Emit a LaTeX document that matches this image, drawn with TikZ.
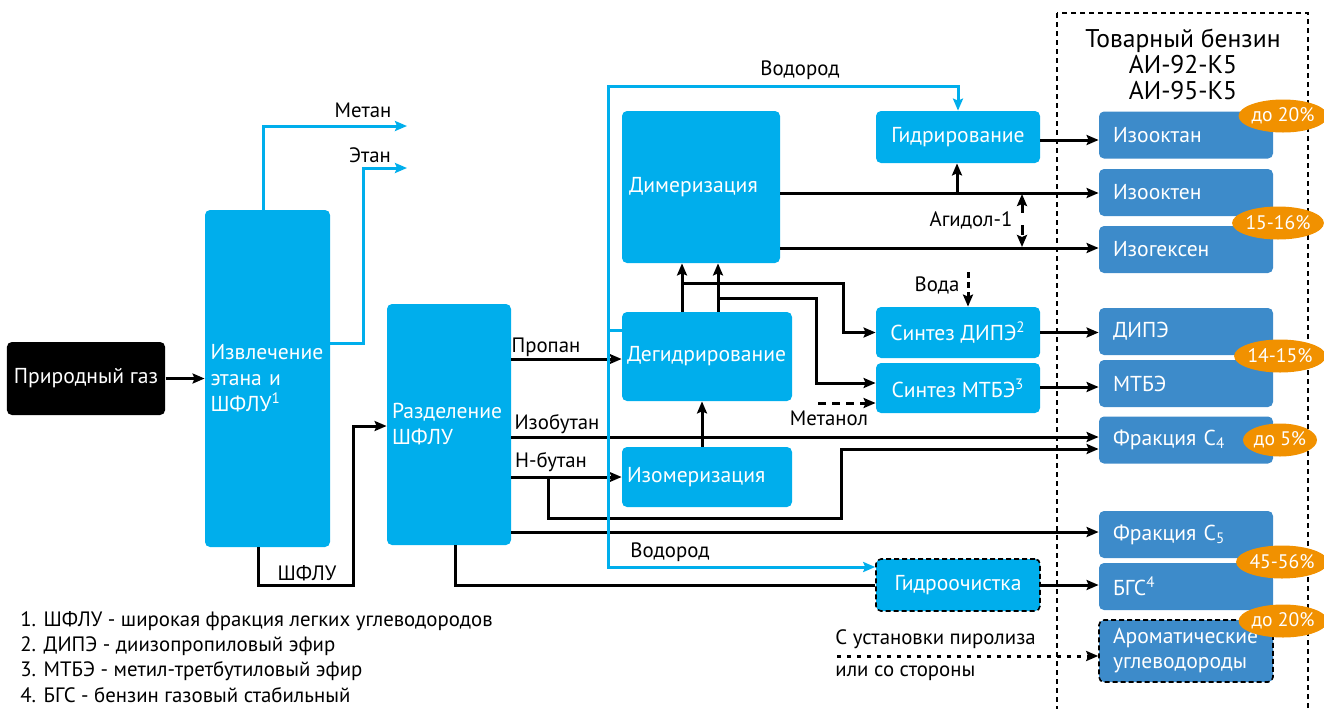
\documentclass[tikz,border=0pt]{standalone}
\usepackage{fontspec}
\setmainfont{PT Sans}
\usetikzlibrary{arrows.meta,shapes.geometric}

\definecolor{procblue}{RGB}{0,174,236}
\definecolor{prodblue}{RGB}{61,139,202}
\definecolor{pctorange}{RGB}{241,145,0}

\tikzset{
  box/.style={fill=procblue, text=white, rounded corners=2.5pt, inner ysep=0pt, inner xsep=3.5pt, align=left,
    font=\fontsize{10.8}{13}\selectfont},
  cbox/.style={box, align=center, minimum width=82pt},
  rbox/.style={fill=prodblue, text=white, rounded corners=2.5pt, inner ysep=0pt, inner xsep=7pt,
    align=left, text width=73pt, minimum height=23.5pt, font=\fontsize{10.8}{12.5}\selectfont},
  pct/.style={ellipse, fill=pctorange, text=white, inner sep=0pt, minimum height=16.5pt,
    font=\fontsize{9.8}{11}\selectfont},
  txt/.style={inner sep=0pt},
  flow/.style={line width=1.5pt, ->},
  pipe/.style={line width=1.5pt},
  hflow/.style={line width=1.5pt, draw=procblue, ->},
  dflow/.style={line width=1.5pt, ->, dash pattern=on 4pt off 3pt},
  dashbox/.style={draw=black, line width=0.8pt, dash pattern=on 2.5pt off 1.5pt}
}

\begin{document}
\begin{tikzpicture}[x=0.5pt, y=-0.5pt, >={Stealth[length=6pt,width=5pt,inset=1pt]},
  font=\fontsize{10.4}{12.5}\selectfont]
  \useasboundingbox (0,0) rectangle (1324,708);

  % Product frame
  \draw[line width=1pt, dash pattern=on 2.5pt off 2pt] (1057,13) rectangle (1308,730);
  \node[txt, align=center, font=\fontsize{12.8}{13}\selectfont] (title) at (1183,64)
    {Товарный бензин\\АИ-92-К5\\АИ-95-К5};

  % Process units
  \node[box, fill=black, align=center, minimum width=76pt, minimum height=36.5pt] (gas) at (86,378.5) {Природный газ};
  \node[box, inner xsep=2.75pt, text width=57pt, minimum height=168.5pt] (extr) at (267.5,378.5) {Извлечение\\этана и\\ШФЛУ\textsuperscript{1}};
  \node[box, inner xsep=2.5pt, text width=57pt, minimum height=120.5pt] (sep) at (449,424.5) {Разделение\\ШФЛУ};
  \node[box, text width=72pt, minimum height=76pt] (dim) at (701,187) {Димеризация};
  \node[box, inner xsep=2.5pt, text width=80pt, minimum height=44.5pt] (deh) at (707,356.5) {Дегидрирование};
  \node[box, inner xsep=2.5pt, text width=80pt, minimum height=30pt] (iso) at (707,477) {Изомеризация};
  \node[cbox, minimum height=26pt] (hyd) at (958,137) {Гидрирование};
  \node[cbox, minimum height=25.5pt] (dipe) at (958,332.5) {Синтез ДИПЭ\textsuperscript{2}};
  \node[cbox, minimum height=25pt] (mtbe) at (958,388) {Синтез МТБЭ\textsuperscript{3}};
  \node[cbox, dashbox, minimum height=26pt] (hydro) at (958,585) {Гидроочистка};

  % Gasoline components
  \node[rbox] (r1) at (1186,135) {Изооктан};
  \node[rbox] (r2) at (1186,192.5) {Изооктен};
  \node[rbox] (r3) at (1186,249.5) {Изогексен};
  \node[rbox] (r4) at (1186,331.5) {ДИПЭ};
  \node[rbox] (r5) at (1186,383.5) {МТБЭ};
  \node[rbox] (r6) at (1186,440) {Фракция C\textsubscript{4}};
  \node[rbox] (r7) at (1186,534.5) {Фракция C\textsubscript{5}};
  \node[rbox] (r8) at (1186,586.5) {БГС\textsuperscript{4}};
  \node[rbox, dashbox, minimum height=31pt] (r9) at (1186,651) {Ароматические\\углеводороды};

  % Shares
  \node[pct, minimum width=40pt] (p1) at (1283,116) {до 20\%};
  \node[pct, minimum width=35pt] (p2) at (1278,223) {15-16\%};
  \node[pct, minimum width=37pt] (p3) at (1280,356) {14-15\%};
  \node[pct, minimum width=37pt] (p4) at (1280,440) {до 5\%};
  \node[pct, minimum width=38pt] (p5) at (1282,562) {45-56\%};
  \node[pct, minimum width=40pt] (p6) at (1283,621) {до 20\%};

  % Free ends and branch points
  \coordinate (metanend) at (407,126);
  \coordinate (etanend) at (407,168);
  \coordinate (hsplit) at (608,330);
  \coordinate (nbsplit) at (548,477);
  \coordinate (dipesplit) at (682,283);
  \coordinate (mtbesplit) at (718,298);
  \coordinate (metanolstart) at (818,403);
  \coordinate (vodastart) at (968,272);
  \coordinate (hydsplit) at (957,193);
  \coordinate (pyrostart) at (837,656);

  % Gas side
  \draw[flow] (gas) -- (extr);
  \draw[hflow] ([xshift=-2.25pt]extr.north) |- (metanend);
  \draw[hflow] (extr.east |- 0,343) -- (363,343) |- (etanend);
  \draw[flow] (extr.south -| 258,0) |- (353,585) |- (sep.west |- 0,426);

  % Fractions
  \draw[flow] (sep.east |- 0,359) -- (deh.west |- 0,359);
  \draw[flow] (sep.east |- 0,437) -- (r6.west |- 0,437);
  \draw[flow] (sep.east |- 0,477) -- (iso.west |- 0,477);
  \draw[flow] (nbsplit) |- (841,518) |- (r6.west |- 0,449);
  \draw[flow] (sep.east |- 0,532) -- (r7.west |- 0,532);
  \draw[pipe] (sep.south -| 455,0) |- (hydro.west);

  % Hydrogen
  \draw[hflow] (deh.west |- hsplit) -- (hsplit) |- (hyd.north |- 0,86) -- (hyd.north);
  \draw[hflow] (hsplit) |- (hydro.west |- 0,567);

  % Butylene routes
  \draw[flow] (iso.north -| 702,0) -- (deh.south -| 702,0);
  \draw[flow] (deh.north -| dipesplit) -- (dim.south -| dipesplit);
  \draw[flow] (deh.north -| mtbesplit) -- (dim.south -| mtbesplit);
  \draw[flow] (dipesplit) -- (843,283) |- (dipe.west);
  \draw[flow] (mtbesplit) -- (816,298) |- (mtbe.west |- 0,383);
  \draw[dflow] (metanolstart) -- (mtbe.west |- metanolstart);
  \draw[dflow, dash pattern=on 3pt off 2pt] (vodastart) -- (dipe.north -| vodastart);

  % Dimerisation products
  \draw[flow] (dim.east |- hydsplit) -- (r2.west |- hydsplit);
  \draw[flow] (dim.east |- 0,248) -- (r3.west |- 0,248);
  \draw[flow] (hydsplit) -- (hyd.south -| hydsplit);
  \draw[line width=1.5pt, <->, dash pattern=on 5pt off 6pt] (1022,194) -- (1022,247);

  % To gasoline
  \draw[flow] (hyd.east |- 0,140) -- (r1.west |- 0,140);
  \draw[flow] (dipe.east) -- (r4.west |- dipe.east);
  \draw[flow] (mtbe.east |- 0,387) -- (r5.west |- 0,387);
  \draw[flow] (hydro.east) -- (r8.west |- hydro.east);
  \draw[dflow, dash pattern=on 2pt off 3pt] (pyrostart) -- (r9.west |- pyrostart);

  % Labels
  \node[txt] (lmetan) at (363,110) {Метан};
  \node[txt] (letan) at (370,155) {Этан};
  \node[txt] (lshflu) at (307,573) {ШФЛУ};
  \node[txt] (lpropan) at (546,347) {Пропан};
  \node[txt] (lisobut) at (557,424) {Изобутан};
  \node[txt] (lnbut) at (551,462) {Н-бутан};
  \node[txt] (lh2top) at (800,70) {Водород};
  \node[txt] (lh2bot) at (670,552) {Водород};
  \node[txt] (lagidol) at (971,220) {Агидол-1};
  \node[txt] (lvoda) at (937,285) {Вода};
  \node[txt] (lmetanol) at (829,418) {Метанол};
  \node[txt, anchor=west] (lpyro1) at (835,639) {С установки пиролиза};
  \node[txt, anchor=west] (lpyro2) at (835,673) {или со стороны};

  % Footnotes
  \node[txt, anchor=west, align=left, font=\fontsize{10.4}{12.6}\selectfont] (notes) at (20,657)
    {1. ШФЛУ - широкая фракция легких углеводородов\\
     2. ДИПЭ - диизопропиловый эфир\\
     3. МТБЭ - метил-третбутиловый эфир\\
     4. БГС - бензин газовый стабильный};
\end{tikzpicture}
\end{document}
